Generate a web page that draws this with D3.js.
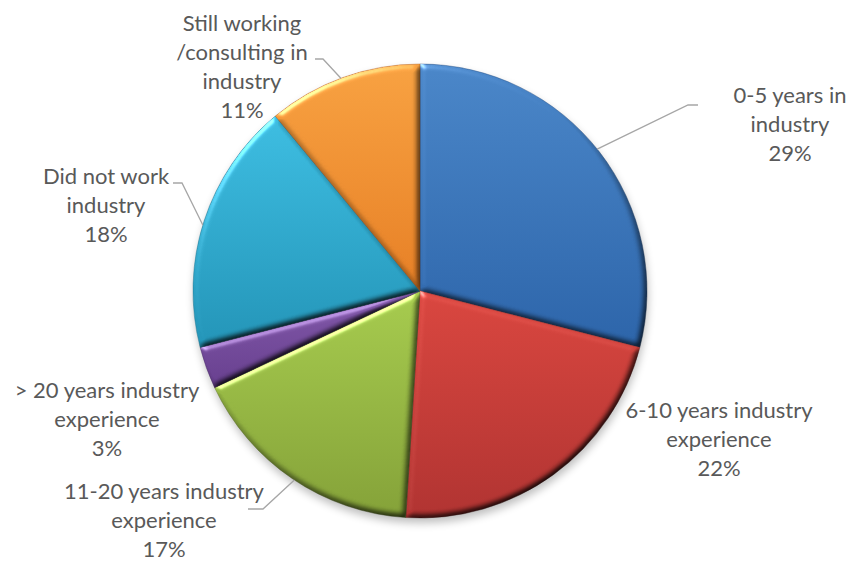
<!DOCTYPE html>
<html>
<head>
<meta charset="utf-8">
<script src="https://cdn.jsdelivr.net/npm/d3@7/dist/d3.min.js"></script>
<style>
  html, body { margin: 0; padding: 0; background: #fff; }
  svg { display: block; }
  text { font-family: Lato, "Open Sans", sans-serif; fill: #595959; }
</style>
</head>
<body>
<svg id="chart" width="848" height="561"></svg>
<script>
// Survey breakdown: industry experience of respondents (percent)
const categories = [
  "0-5 years in industry",
  "6-10 years industry experience",
  "11-20 years industry experience",
  "> 20 years industry experience",
  "Did not work industry",
  "Still working /consulting in industry"
];
const values = [29, 22, 17, 3, 18, 11];
// Label text, line by line
const labelLines = [
  ["0-5 years in", "industry", "29%"],
  ["6-10 years industry", "experience", "22%"],
  ["11-20 years industry", "experience", "17%"],
  ["> 20 years industry", "experience", "3%"],
  ["Did not work", "industry", "18%"],
  ["Still working", "/consulting in", "industry", "11%"]
];
// Slice fills: light (top) and dark (bottom) gradient stops
const colorsLight = ["#4a86c8", "#d9463f", "#a6cb4e", "#8158a9", "#3dbde1", "#f7a141"];
const colorsDark  = ["#2c64a9", "#b03331", "#84a138", "#673f8e", "#2394b7", "#e67f25"];

const width = 848, height = 561;
const cx = 420, cy = 291, radius = 227;

const svg = d3.select("#chart");
const defs = svg.append("defs");

// soft shadow underneath the pie
const shadow = defs.append("filter").attr("id", "shadow")
  .attr("x", "-20%").attr("y", "-20%").attr("width", "140%").attr("height", "140%");
shadow.append("feGaussianBlur").attr("in", "SourceAlpha").attr("stdDeviation", 4);

// rounded bevel on each slice: shade the far edges, light the near edges
const bevel = defs.append("filter").attr("id", "bevel")
  .attr("x", "-5%").attr("y", "-5%").attr("width", "110%").attr("height", "110%")
  .attr("color-interpolation-filters", "sRGB");
bevel.append("feGaussianBlur").attr("in", "SourceAlpha").attr("stdDeviation", 3).attr("result", "blur");
const diff = bevel.append("feDiffuseLighting")
  .attr("in", "blur").attr("surfaceScale", 3).attr("diffuseConstant", 1.414)
  .attr("lighting-color", "#ffffff").attr("result", "diff");
diff.append("feDistantLight").attr("azimuth", 235).attr("elevation", 45);
bevel.append("feComposite").attr("in", "SourceGraphic").attr("in2", "diff")
  .attr("operator", "arithmetic").attr("k1", 1).attr("k2", 0).attr("k3", 0).attr("k4", 0)
  .attr("result", "shaded");
const spec = bevel.append("feSpecularLighting")
  .attr("in", "blur").attr("surfaceScale", 3).attr("specularConstant", 0.6)
  .attr("specularExponent", 30).attr("lighting-color", "#ffffff").attr("result", "spec");
spec.append("feDistantLight").attr("azimuth", 235).attr("elevation", 28);
bevel.append("feComposite").attr("in", "spec").attr("in2", "SourceAlpha")
  .attr("operator", "in").attr("result", "specOut");
bevel.append("feComposite").attr("in", "shaded").attr("in2", "specOut")
  .attr("operator", "arithmetic").attr("k1", 0).attr("k2", 1).attr("k3", 0.7).attr("k4", 0);

values.forEach((v, i) => {
  const g = defs.append("linearGradient").attr("id", "grad" + i)
    .attr("x1", 0).attr("y1", 0).attr("x2", 0).attr("y2", 1);
  g.append("stop").attr("offset", "0%").attr("stop-color", colorsLight[i]);
  g.append("stop").attr("offset", "100%").attr("stop-color", colorsDark[i]);
});

const pie = d3.pie().sort(null).value(d => d)
  .startAngle(0).endAngle(2 * Math.PI);
const arcs = pie(values);
const arc = d3.arc().innerRadius(0).outerRadius(radius);

const root = svg.append("g").attr("transform", `translate(${cx},${cy})`);

root.append("circle")
  .attr("cx", 1).attr("cy", 5).attr("r", radius)
  .attr("fill", "#000").attr("opacity", 0.25)
  .attr("filter", "url(#shadow)");

root.selectAll("path.slice")
  .data(arcs)
  .join("path")
  .attr("class", "slice")
  .attr("d", arc)
  .attr("fill", (d, i) => `url(#grad${i})`)
  .attr("stroke", (d, i) => d3.color(colorsDark[i]).darker(0.8))
  .attr("stroke-opacity", 0.6)
  .attr("stroke-width", 0.7)
  .attr("stroke-linejoin", "round")
  .attr("filter", "url(#bevel)");

// Labels: anchor x (text centre) and first baseline
const labelPos = [
  { x: 790, y: 103 },
  { x: 719, y: 418 },
  { x: 164, y: 499 },
  { x: 107, y: 398 },
  { x: 106, y: 184 },
  { x: 242, y: 31 }
];
const lineStep = 29;
const fontSize = 22;

const labels = svg.append("g");
labelLines.forEach((lines, i) => {
  const t = labels.append("text")
    .attr("text-anchor", "middle")
    .attr("font-size", fontSize)
    .attr("x", labelPos[i].x)
    .attr("y", labelPos[i].y);
  lines.forEach((ln, j) => {
    t.append("tspan").attr("x", labelPos[i].x).attr("dy", j === 0 ? 0 : lineStep).text(ln);
  });
});

// Leader lines from the rim to their labels
const leaders = [
  { slice: 0, rimAngleDeg: 51.3, knee: [688, 105], end: [698, 105] },
  { slice: 2, rimAngleDeg: 213.6, knee: [263, 509], end: [248, 509] },
  { slice: 4, rimAngleDeg: 286.9, knee: [182, 183], end: [173, 183] },
  { slice: 5, rimAngleDeg: 339.6, knee: [323, 59], end: [315, 59] }
];
svg.append("g").selectAll("polyline")
  .data(leaders)
  .join("polyline")
  .attr("points", d => {
    const a = d.rimAngleDeg * Math.PI / 180;
    const px = cx + radius * Math.sin(a), py = cy - radius * Math.cos(a);
    return [[px, py], d.knee, d.end].map(p => p.join(",")).join(" ");
  })
  .attr("fill", "none")
  .attr("stroke", "#a6a6a6")
  .attr("stroke-width", 1.3);
</script>
</body>
</html>
